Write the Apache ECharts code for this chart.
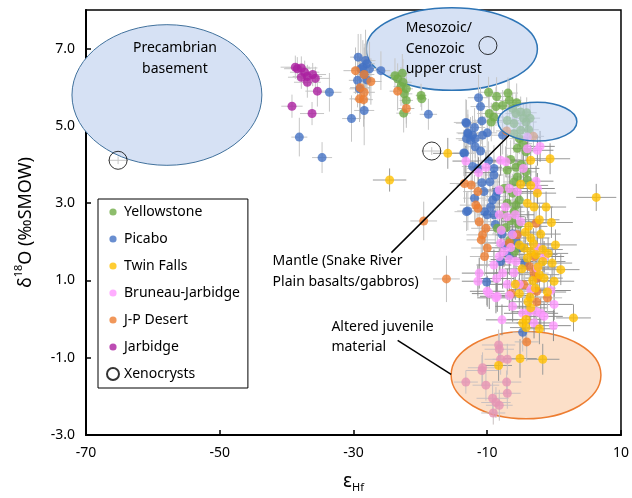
<!DOCTYPE html>
<html>
<head>
<meta charset="utf-8">
<script src="https://cdn.jsdelivr.net/npm/echarts@6/dist/echarts.min.js"></script>
<style>
  html, body { margin: 0; padding: 0; background: #fff; }
  #chart { width: 632px; height: 498px; }
</style>
</head>
<body>
<div id="chart"></div>
<script>
// each point: [eHf, d18O, eHf error, d18O error]
var yellowstone = [
  [-23.8,6.30,1.0,0.45],[-22.7,6.36,1.2,0.5],[-23.4,6.22,1.0,0.4],[-22.6,6.13,1.3,0.6],[-22.9,6.02,1.1,0.5],
  [-22.1,5.96,1.0,0.4],[-22.4,5.83,1.2,0.5],[-22.1,5.66,1.0,0.6],[-22.5,5.33,1.1,0.5],[-19.9,5.79,0.8,0.3],
  [-19.8,5.70,0.8,0.3],
  [-9.8,5.87,1.5,0.4],[-8.6,5.76,1.6,0.5],[-6.7,5.66,1.8,0.5],[-7.7,5.53,1.5,0.4],[-8.7,5.50,2.0,0.5],
  [-9.7,5.32,1.8,0.6],[-9.0,5.23,1.5,0.4],[-9.4,5.10,2.2,0.5],[-6.2,5.45,1.4,0.4],[-5.7,5.32,1.6,0.5],
  [-7.0,5.14,1.8,0.4],[-6.0,5.06,1.5,0.5],[-5.0,5.36,1.4,0.4],[-4.1,5.34,1.5,0.4],[-4.2,5.10,1.6,0.5],
  [-5.0,4.89,1.5,0.4],[-6.0,4.80,1.8,0.5],[-5.2,4.67,1.5,0.4],[-4.7,4.54,1.4,0.5],[-5.5,4.42,1.6,0.4],
  [-4.2,4.33,1.5,0.5],[-6.5,4.13,1.8,0.5],[-7.0,3.86,1.6,0.4],[-5.7,3.93,1.5,0.5],[-5.5,3.68,1.7,0.4],
  [-6.0,3.55,1.6,0.5],[-4.2,3.81,1.5,0.4],[-4.0,3.60,1.4,0.5],[-7.5,3.38,1.8,0.4],[-6.2,3.26,1.6,0.5],
  [-7.0,3.00,1.7,0.4],[-5.7,2.95,1.5,0.5],[-6.0,2.78,1.6,0.4],[-5.2,3.08,1.5,0.4],[-8.5,2.35,1.8,0.5],
  [-7.2,2.37,1.6,0.4],[-6.4,2.55,1.5,0.4],[-7.6,2.70,1.7,0.5],[-5.3,2.45,1.5,0.4],[-4.9,4.00,1.4,0.4],
  [-3.8,4.90,1.5,0.4],[-5.6,5.60,1.6,0.5],[-6.9,5.85,1.5,0.4],[-4.6,5.20,1.4,0.4],[-3.6,5.20,1.5,0.4],
  [-6.6,2.05,1.6,0.4],[-5.9,1.75,1.5,0.4]
];
var picabo = [
  [-33.6,5.87,1.8,0.5],[-38.1,4.71,1.2,0.5],[-34.7,4.18,1.5,0.4],[-30.3,5.19,1.4,0.6],[-28.4,5.40,1.5,0.9],
  [-29.3,6.78,1.2,0.6],[-28.2,6.69,1.5,0.8],[-28.6,6.52,1.3,0.7],[-28.0,6.61,1.2,0.6],[-28.9,6.48,1.4,0.9],
  [-27.6,6.48,1.2,0.7],[-28.4,6.33,1.5,0.8],[-29.4,6.18,1.3,0.7],[-28.0,6.19,1.2,0.6],[-29.1,5.96,1.5,0.8],
  [-25.9,6.43,1.4,0.5],[-18.8,5.30,1.3,0.4],
  [-11.3,5.73,1.6,0.6],[-11.0,5.50,1.5,0.5],[-13.2,5.09,1.8,0.6],[-11.9,4.96,1.6,0.5],[-12.9,4.82,1.7,0.6],
  [-12.2,4.76,1.5,0.5],[-12.5,4.63,1.8,0.6],[-11.8,4.67,1.6,0.5],[-10.0,4.82,1.5,0.6],[-10.7,4.76,1.6,0.5],
  [-10.8,5.13,1.5,0.6],[-7.7,4.76,1.4,0.5],[-11.8,4.46,1.6,0.6],[-11.0,4.35,1.5,0.5],[-13.5,4.30,1.7,0.6],
  [-11.4,3.90,1.6,0.5],[-9.0,3.90,1.5,0.6],[-9.0,3.73,1.4,0.5],[-10.8,3.53,1.6,0.6],[-13.4,4.29,1.5,0.5],
  [-13.1,5.07,1.6,0.6],[-12.9,4.80,1.5,0.5],[-13.1,4.67,1.6,0.6],[-13.1,2.78,1.8,0.5],[-12.9,2.80,1.6,0.5],
  [-11.9,3.13,1.7,0.6],[-10.4,2.78,1.6,0.5],[-10.0,2.70,1.5,0.6],[-9.0,2.70,1.6,0.5],[-9.2,3.08,1.5,0.5],
  [-8.7,3.17,1.6,0.6],[-8.5,3.30,1.5,0.5],[-5.7,2.02,1.6,0.5],[-5.0,1.85,1.5,0.5],[-8.0,1.49,1.7,0.5],
  [-6.7,1.66,1.6,0.5],[-10.1,0.96,1.8,0.6],[-4.7,-0.34,1.5,0.5],[-9.5,2.90,1.6,0.5],[-7.3,1.90,1.5,0.5],
  [-6.2,2.20,1.6,0.5],[-10.5,3.30,1.5,0.5],[-9.8,4.10,1.6,0.5],[-8.8,2.45,1.6,0.5],[-7.8,2.20,1.5,0.5],
  [-4.4,1.45,1.6,0.5],[-9.6,3.55,1.5,0.5],[-12.2,3.95,1.6,0.5]
];
var twinFalls = [
  [-15.9,4.29,2.2,0.4],[-24.6,3.60,2.5,0.3],[6.3,3.15,3.0,0.35],[-3.5,4.11,2.5,0.4],[-0.6,4.15,3.0,0.4],
  [-5.0,3.49,2.4,0.4],[-3.5,3.46,2.6,0.4],[-2.5,3.26,2.8,0.4],[-2.2,2.57,3.0,0.4],[-0.4,2.50,3.2,0.4],
  [-3.5,2.10,2.8,0.4],[-4.5,1.84,2.6,0.4],[-3.5,1.75,3.0,0.4],[-4.0,1.58,2.8,0.4],[-2.7,1.67,3.2,0.4],
  [-1.7,1.80,3.0,0.4],[-1.7,1.49,3.4,0.4],[-2.2,1.15,3.0,0.4],[0.2,1.92,3.2,0.4],[-0.3,1.45,3.0,0.4],
  [1.0,1.28,2.8,0.4],[0.0,0.98,3.0,0.4],[-1.5,1.06,2.8,0.4],[-5.2,1.92,2.6,0.4],[-5.2,0.66,2.8,0.4],
  [-3.6,0.57,3.0,0.4],[-3.5,0.29,2.6,0.4],[-4.2,-0.01,2.8,0.4],[-4.7,-0.10,2.6,0.4],[-4.2,-0.22,2.4,0.4],
  [-2.2,-0.25,2.6,0.4],[2.9,0.03,2.6,0.35],[-5.1,-1.02,2.5,0.5],[-1.7,-1.04,2.5,0.4],[-8.3,-1.20,2.0,0.4],
  [-3.0,2.90,2.8,0.4],[-2.0,2.20,3.0,0.4],[-4.8,1.30,2.6,0.4],[-3.2,1.00,2.8,0.4],[-2.8,0.80,3.0,0.4],
  [-1.0,0.70,2.8,0.4],[-5.8,0.90,2.6,0.4],[-3.8,2.40,2.8,0.4],[-1.2,2.90,3.0,0.4],[-4.0,3.00,2.6,0.4],
  [-3.1,1.95,2.8,0.4],[-4.3,2.25,2.6,0.4],[-2.4,1.35,3.0,0.4],[-3.9,0.45,2.8,0.4],[-0.9,1.70,3.0,0.4]
];
var bruneau = [
  [-4.0,4.71,2.0,0.4],[-4.0,4.41,2.2,0.4],[-2.5,4.37,2.4,0.4],[-2.1,4.47,2.2,0.4],[-13.2,4.09,2.0,0.4],
  [-8.0,4.11,2.4,0.4],[-7.2,4.07,2.2,0.4],[-10.2,3.93,2.4,0.4],[-11.3,3.79,2.2,0.4],[-4.6,3.90,2.4,0.4],
  [-2.7,3.57,2.6,0.4],[-8.2,3.34,2.4,0.4],[-6.7,3.38,2.6,0.4],[-5.5,3.30,2.4,0.4],[-2.5,3.38,2.6,0.4],
  [-8.2,2.70,2.8,0.4],[-7.0,2.65,2.6,0.4],[-5.0,2.52,2.8,0.4],[-6.2,2.18,2.6,0.4],[-8.0,1.97,2.8,0.4],
  [-7.5,1.75,2.6,0.4],[-6.7,1.54,2.8,0.4],[-5.7,1.49,2.6,0.4],[-7.7,1.19,2.8,0.4],[-8.2,1.62,2.6,0.4],
  [-2.5,1.84,2.8,0.4],[-1.5,1.62,3.0,0.4],[-2.5,1.32,2.8,0.4],[-11.2,1.19,2.6,0.4],[-11.4,0.98,2.4,0.4],
  [-10.0,0.72,2.6,0.4],[-0.5,0.74,3.0,0.4],[-3.5,0.76,2.8,0.4],[-9.7,0.66,2.6,0.4],[-8.7,0.55,2.8,0.4],
  [-8.5,0.59,2.6,0.4],[-6.7,0.61,2.8,0.4],[-6.2,0.33,2.6,0.4],[-4.7,0.15,2.8,0.4],[-3.7,0.19,2.6,0.4],
  [-2.7,0.19,2.8,0.4],[-2.0,0.15,2.6,0.4],[-1.5,0.07,2.8,0.4],[-3.0,-0.10,2.6,0.4],[0.0,0.38,2.8,0.4],
  [-0.1,-0.17,2.6,0.4],[-7.8,-0.02,2.4,0.4],[-7.3,2.90,2.6,0.4],[-6.0,1.20,2.8,0.4],[-9.0,1.40,2.6,0.4],
  [-5.2,0.90,2.8,0.4],[-7.0,0.90,2.6,0.4],[-7.9,2.30,2.6,0.4],[-6.5,1.85,2.8,0.4],[-8.6,1.05,2.6,0.4],
  [-5.8,2.70,2.8,0.4]
];
// Bruneau-Jarbidge grains inside the altered juvenile field
var bruneauAltered = [
  [-8.3,-0.67,2.5,0.4],[-8.2,-0.78,2.2,0.4],[-8.0,-1.04,2.4,0.4],[-7.0,-1.04,2.2,0.4],[-10.7,-1.26,2.2,0.4],
  [-10.8,-1.33,2.4,0.4],[-13.2,-1.63,1.8,0.3],[-10.2,-1.71,2.0,0.4],[-7.1,-1.63,2.2,0.3],[-7.0,-1.92,2.0,0.4],
  [-9.2,-2.05,2.4,0.4],[-8.7,-2.16,2.2,0.4],[-8.2,-2.23,2.0,0.4],[-9.1,-2.43,1.8,0.3]
];
var jpDesert = [
  [-29.7,6.43,1.8,0.6],[-28.4,6.33,1.5,0.7],[-27.4,6.15,1.6,0.6],[-29.0,5.99,1.5,0.8],[-28.4,5.87,1.6,0.7],
  [-29.1,5.70,1.5,0.6],[-28.5,5.68,1.4,0.7],[-23.4,5.90,1.2,0.5],[-22.1,5.45,1.2,0.5],[-19.5,2.54,2.0,0.5],
  [-7.1,4.87,1.6,0.4],[-3.1,4.73,1.6,0.4],[-11.4,3.30,2.2,0.5],[-11.7,2.95,2.4,0.5],[-11.4,2.87,2.2,0.5],
  [-11.2,2.52,2.4,0.5],[-10.2,2.35,2.2,0.5],[-10.7,2.18,2.4,0.5],[-10.9,2.05,2.2,0.5],[-10.0,1.84,2.4,0.5],
  [-10.4,1.62,2.2,0.5],[-2.7,2.48,2.4,0.5],[-5.5,2.18,2.2,0.5],[-6.7,1.97,2.4,0.5],[-3.0,1.62,2.2,0.5],
  [-3.7,1.36,2.4,0.5],[-3.0,1.19,2.2,0.5],[-2.5,1.06,2.4,0.5],[-4.5,0.89,2.2,0.5],[-6.4,0.66,2.4,0.5],
  [-2.6,0.72,2.2,0.5],[-2.6,0.44,2.4,0.5],[-1.0,0.55,2.2,0.5],[-4.1,-0.59,1.8,0.5],[-13.4,3.51,2.2,0.5],
  [-12.4,3.47,2.2,0.5],[-16.1,1.04,2.0,0.6]
];
var jarbidge = [
  [-38.7,6.52,2.2,0.3],[-38.4,6.48,2.0,0.3],[-37.8,6.50,2.4,0.3],[-37.3,6.39,2.2,0.3],[-37.8,6.26,2.0,0.3],
  [-36.9,6.28,2.2,0.3],[-36.1,6.33,2.0,0.3],[-35.7,6.23,2.2,0.3],[-36.9,6.13,2.0,0.4],[-35.4,5.90,1.8,0.4],
  [-39.2,5.51,1.6,0.3],[-36.2,5.32,1.8,0.3]
];
var xenocrysts = [[-65.2,4.11,1.5,0.1],[-18.3,4.35,1.5,0.1],[-9.9,7.08,0,0]];

// reference fields: [centre eHf, centre d18O, half width, half height]
var fieldsBack = [[-57.9,5.8,14.2,1.82],[-15.3,6.99,12.8,1.07],[-4.2,-1.45,11.2,1.13]];
var fieldMantle = [[-2.5,5.11,5.9,0.5]];
// leader lines: [x1, y1, x2, y2]
var leaders = [[-6.72,4.76,-24.33,1.72],[-23.4,-0.55,-15.4,-1.43]];
var labels = [
  [-56.7,6.74,'Precambrian\nbasement','center'],
  [-22.2,7.0,'Mesozoic/\nCenozoic\nupper crust','left'],
  [-42.1,1.23,'Mantle (Snake River\nPlain basalts/gabbros)','left'],
  [-33.3,-0.47,'Altered juvenile\nmaterial','left']
];

var chart = echarts.init(document.getElementById('chart'));
var font = 'Noto Sans';
var backStyles = [
  {fill:'#d6e1f4', stroke:'#41719c', lineWidth:1},
  {fill:'#d6e1f4', stroke:'#2e75b6', lineWidth:1.5},
  {fill:'#fcdfc8', stroke:'#ed7d31', lineWidth:1.5}
];
var groups = [yellowstone, picabo, twinFalls, bruneau, bruneauAltered, jpDesert, jarbidge, xenocrysts];
var barColors = ['#c6c6c6','#c6c6c6','#9a9a9a','#8c8c8c','#c9c0c0','#c0c0c0','#c6c6c6','#c6c6c6'];
var errData = [];
groups.forEach(function (g, gi) {
  g.forEach(function (p) { errData.push([p[0], p[1], p[2], p[3], gi]); });
});

function ellipseItem(styles) {
  return function (params, api) {
    var c = api.coord([api.value(0), api.value(1)]);
    var s = api.size([api.value(2), api.value(3)]);
    return {type: 'ellipse', shape: {cx: c[0], cy: c[1], rx: s[0], ry: s[1]},
      style: styles[params.dataIndex]};
  };
}
var dot = 'path://M0,0M12,12M9.6,6A3.6,3.6,0,1,1,2.4,6A3.6,3.6,0,1,1,9.6,6Z';
var axisCommon = {
  axisLine: {onZero: false, lineStyle: {color: '#000', width: 2}},
  axisTick: {inside: true, length: 5, lineStyle: {color: '#000', width: 1.5}},
  splitLine: {show: false}
};

var option = {
  animation: false,
  grid: {left: 86, right: 11, top: 10, bottom: 61, show: true, borderColor: '#000', borderWidth: 1.5},
  legend: {
    left: 98, top: 199, orient: 'vertical', selectedMode: false,
    padding: [5, 8, 6, 8], itemGap: 11, itemWidth: 12, itemHeight: 12,
    backgroundColor: '#fff', borderColor: '#000', borderWidth: 1,
    textStyle: {fontFamily: font, fontSize: 14, color: '#000', lineHeight: 16},
    data: [
      {name: 'Yellowstone', icon: dot}, {name: 'Picabo', icon: dot}, {name: 'Twin Falls', icon: dot},
      {name: 'Bruneau-Jarbidge', icon: dot}, {name: 'J-P Desert', icon: dot}, {name: 'Jarbidge', icon: dot},
      {name: 'Xenocrysts', icon: 'circle'}
    ],
    z: 20
  },
  xAxis: Object.assign({
    type: 'value', min: -70, max: 10, interval: 20,
    name: '{d|ε}{s|Hf}', nameLocation: 'middle', nameGap: 36,
    nameTextStyle: {rich: {d: {fontFamily: font, fontSize: 19, color: '#000'},
      s: {fontFamily: font, fontSize: 11, color: '#000', padding: [11, 0, 0, 0]}}},
    axisLabel: {fontFamily: font, fontSize: 14, color: '#000', margin: 11}
  }, axisCommon),
  yAxis: Object.assign({
    type: 'value', min: -3, max: 8, interval: 2,
    name: '{d|δ}{s|18}{d|O (‰SMOW)}', nameLocation: 'middle', nameGap: 48, nameRotate: 90,
    nameTextStyle: {rich: {d: {fontFamily: font, fontSize: 18, color: '#000'},
      s: {fontFamily: font, fontSize: 11, color: '#000', padding: [0, 0, 14, 0]}}},
    axisLabel: {fontFamily: font, fontSize: 14, color: '#000', margin: 11, showMaxLabel: false,
      formatter: function (v) { return v === 8 ? '' : v.toFixed(1); }}
  }, axisCommon),
  series: [
    {type: 'custom', name: 'fields', z: 1, silent: true, clip: false,
      renderItem: ellipseItem(backStyles), data: fieldsBack},
    {type: 'custom', name: 'errors', z: 2, silent: true,
      renderItem: function (params, api) {
        var x = api.value(0), y = api.value(1), ex = api.value(2), ey = api.value(3);
        var col = barColors[api.value(4)];
        var l = api.coord([x - ex, y]), r = api.coord([x + ex, y]);
        var t = api.coord([x, y + ey]), b = api.coord([x, y - ey]);
        return {type: 'group', children: [
          {type: 'line', shape: {x1: l[0], y1: l[1], x2: r[0], y2: r[1]}, style: {stroke: col, lineWidth: 1}},
          {type: 'line', shape: {x1: t[0], y1: t[1], x2: b[0], y2: b[1]}, style: {stroke: col, lineWidth: 1}}
        ]};
      },
      data: errData},
    {type: 'scatter', name: 'Picabo', z: 3, symbolSize: 9, itemStyle: {color: '#4472c4'}, data: picabo},
    {type: 'scatter', name: 'Yellowstone', z: 3, symbolSize: 9, itemStyle: {color: '#70ad47'}, data: yellowstone},
    {type: 'scatter', name: 'J-P Desert', z: 3, symbolSize: 9, itemStyle: {color: '#ed7d31'}, data: jpDesert},
    {type: 'scatter', name: 'Bruneau-Jarbidge', z: 3, symbolSize: 9, itemStyle: {color: '#ff99ff'},
      data: bruneau.concat(bruneauAltered.map(function (p) {
        return {value: p, itemStyle: {color: '#e693b4'}};
      }))},
    {type: 'scatter', name: 'Twin Falls', z: 3, symbolSize: 9, itemStyle: {color: '#ffc000'}, data: twinFalls},
    {type: 'scatter', name: 'Jarbidge', z: 3, symbolSize: 9, itemStyle: {color: '#ab1fa0'}, data: jarbidge},
    {type: 'scatter', name: 'Xenocrysts', z: 3, symbolSize: 18,
      itemStyle: {color: 'rgba(255,255,255,0)', borderColor: '#000', borderWidth: 1}, data: xenocrysts},
    {type: 'custom', name: 'mantle', z: 4, silent: true,
      renderItem: ellipseItem([{fill: 'rgba(190,208,238,0.55)', stroke: '#2e75b6', lineWidth: 1.5}]),
      data: fieldMantle},
    {type: 'custom', name: 'leaders', z: 5, silent: true,
      renderItem: function (params, api) {
        var a = api.coord([api.value(0), api.value(1)]), b = api.coord([api.value(2), api.value(3)]);
        return {type: 'line', shape: {x1: a[0], y1: a[1], x2: b[0], y2: b[1]}, style: {stroke: '#000', lineWidth: 1.5}};
      },
      data: leaders},
    {type: 'custom', name: 'labels', z: 5, silent: true, clip: false,
      renderItem: function (params, api) {
        var p = api.coord([api.value(0), api.value(1)]);
        var lab = labels[params.dataIndex];
        return {type: 'text', x: p[0], y: p[1], style: {text: lab[2], fill: '#000', fontFamily: font,
          fontSize: 14, lineHeight: 20.5, align: lab[3], verticalAlign: 'middle'}};
      },
      data: labels.map(function (l) { return [l[0], l[1]]; })}
  ]
};
chart.setOption(option);
</script>
</body>
</html>
